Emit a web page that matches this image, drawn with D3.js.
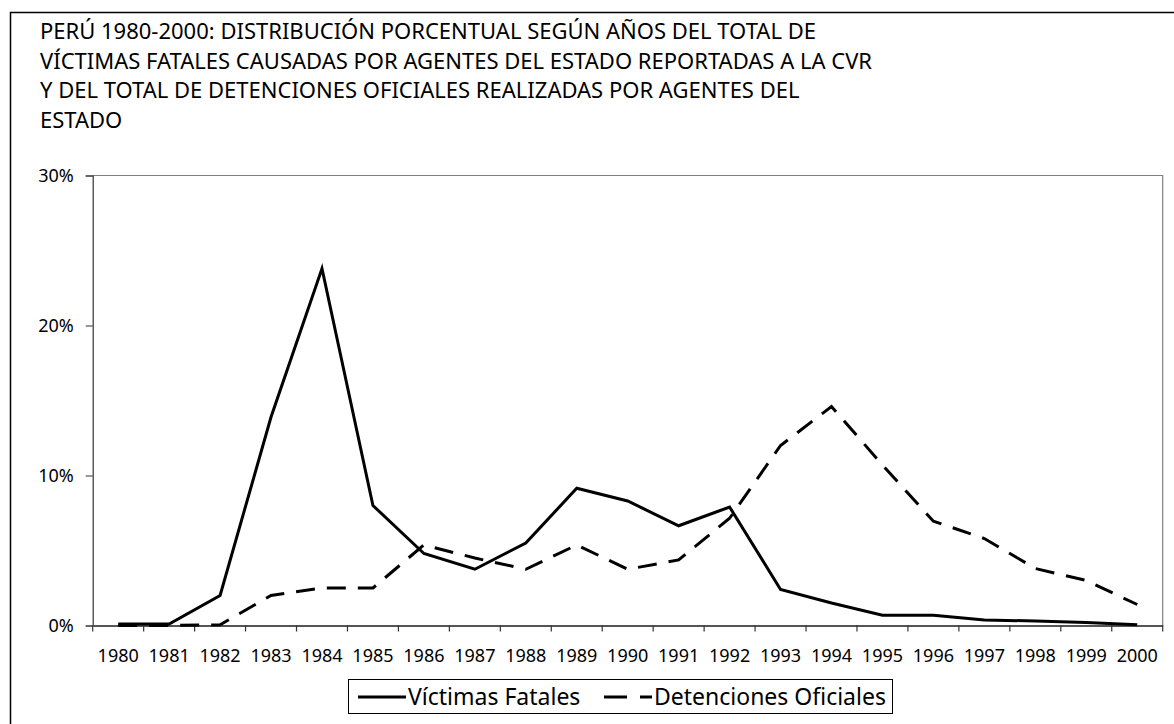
<!DOCTYPE html>
<html>
<head>
<meta charset="utf-8">
<script src="https://cdn.jsdelivr.net/npm/d3@7"></script>
<style>
  html, body { margin: 0; padding: 0; background: #fff; }
  svg { display: block; }
  text { font-family: "Noto Sans", "Open Sans", sans-serif; fill: #000; }
</style>
</head>
<body>
<svg id="chart" width="1174" height="724"></svg>
<script>
// Años del periodo
const years = ["1980","1981","1982","1983","1984","1985","1986","1987","1988","1989","1990",
               "1991","1992","1993","1994","1995","1996","1997","1998","1999","2000"];

// Porcentaje anual (%) de víctimas fatales causadas por agentes del Estado
const victimas = [0.1, 0.1, 2.0, 13.9, 23.8, 8.0, 4.8, 3.75, 5.5, 9.15, 8.3,
                  6.65, 7.9, 2.4, 1.5, 0.68, 0.68, 0.37, 0.3, 0.2, 0.05];

// Porcentaje anual (%) de detenciones oficiales
const detenciones = [0, 0, 0.05, 2.0, 2.5, 2.5, 5.37, 4.5, 3.75, 5.37, 3.75,
                     4.37, 7.15, 12.0, 14.6, 10.7, 6.95, 5.8, 3.8, 3.0, 1.4];

const yTicks = [0, 10, 20, 30];

const titleLines = [
  "PERÚ 1980-2000: DISTRIBUCIÓN PORCENTUAL SEGÚN AÑOS DEL TOTAL DE",
  "VÍCTIMAS FATALES CAUSADAS POR AGENTES DEL ESTADO REPORTADAS A LA CVR",
  "Y DEL TOTAL DE DETENCIONES OFICIALES REALIZADAS POR AGENTES DEL",
  "ESTADO"
];

const seriesNames = ["Víctimas Fatales", "Detenciones Oficiales"];

const svg = d3.select("#chart");

// Marco exterior del gráfico
svg.append("rect")
  .attr("x", 10.5).attr("y", 12.5)
  .attr("width", 1180).attr("height", 730)
  .attr("fill", "none").attr("stroke", "#000").attr("stroke-width", 1.5);

// Título
svg.append("g").selectAll("text")
  .data(titleLines)
  .join("text")
  .attr("x", 40)
  .attr("y", (d, i) => 39 + i * 29.7)
  .attr("font-size", 22)
  .text(d => d);

const plot = { left: 92.7, right: 1162.7, top: 175.5, bottom: 625.5 };

const x = d3.scaleBand().domain(years).range([plot.left, plot.right]);
const y = d3.scaleLinear().domain([0, 30]).range([plot.bottom, plot.top]);
const cx = d => x(d) + x.bandwidth() / 2;

// Borde superior y derecho del área de trazado
svg.append("path")
  .attr("d", `M${plot.left},${plot.top}H${plot.right}V${plot.bottom}`)
  .attr("fill", "none").attr("stroke", "#808080").attr("stroke-width", 1.2);

// Eje Y
const yAxis = svg.append("g")
  .attr("transform", `translate(${plot.left},0)`)
  .call(d3.axisLeft(y).tickValues(yTicks).tickSize(7).tickPadding(12).tickFormat(d => d + "%"));
yAxis.select(".domain").attr("stroke", "#333").attr("stroke-width", 1.2);
yAxis.selectAll(".tick line").attr("stroke", "#333");
yAxis.selectAll(".tick text")
  .attr("font-family", "Noto Sans, sans-serif").attr("font-size", 18).attr("fill", "#000");

// Eje X: marcas en los límites de cada año
const xAxis = svg.append("g")
  .attr("transform", `translate(0,${plot.bottom})`)
  .call(d3.axisBottom(x).tickSize(0).tickPadding(24));
xAxis.select(".domain").attr("stroke", "#555").attr("stroke-width", 2);
xAxis.selectAll(".tick text")
  .attr("font-family", "Noto Sans, sans-serif").attr("font-size", 18).attr("fill", "#000");
const bounds = years.map(d => x(d)).concat([plot.right]);
xAxis.selectAll("line.bound")
  .data(bounds)
  .join("line")
  .attr("class", "bound")
  .attr("x1", d => d).attr("x2", d => d)
  .attr("y1", 0).attr("y2", 6)
  .attr("stroke", "#333").attr("stroke-width", 1.2);

// Líneas de las series
const line = d3.line().x((d, i) => cx(years[i])).y(d => y(d));

svg.append("path")
  .datum(detenciones)
  .attr("d", line)
  .attr("fill", "none").attr("stroke", "#000").attr("stroke-width", 3)
  .attr("stroke-dasharray", "19,12");

svg.append("path")
  .datum(victimas)
  .attr("d", line)
  .attr("fill", "none").attr("stroke", "#000").attr("stroke-width", 3)
  .attr("stroke-linejoin", "miter");

// Leyenda
const legend = svg.append("g");
legend.append("rect")
  .attr("x", 348.5).attr("y", 679.5).attr("width", 544).attr("height", 34)
  .attr("fill", "#fff").attr("stroke", "#000").attr("stroke-width", 1);

const legendItems = [
  { name: seriesNames[0], x: 358, dash: null },
  { name: seriesNames[1], x: 604, dash: "23,13" }
];
legendItems.forEach(it => {
  legend.append("line")
    .attr("x1", it.x).attr("x2", it.x + 48)
    .attr("y1", 697).attr("y2", 697)
    .attr("stroke", "#000").attr("stroke-width", 3)
    .attr("stroke-dasharray", it.dash);
  legend.append("text")
    .attr("x", it.x + 50).attr("y", 705)
    .attr("font-size", 23)
    .text(it.name);
});
</script>
</body>
</html>
